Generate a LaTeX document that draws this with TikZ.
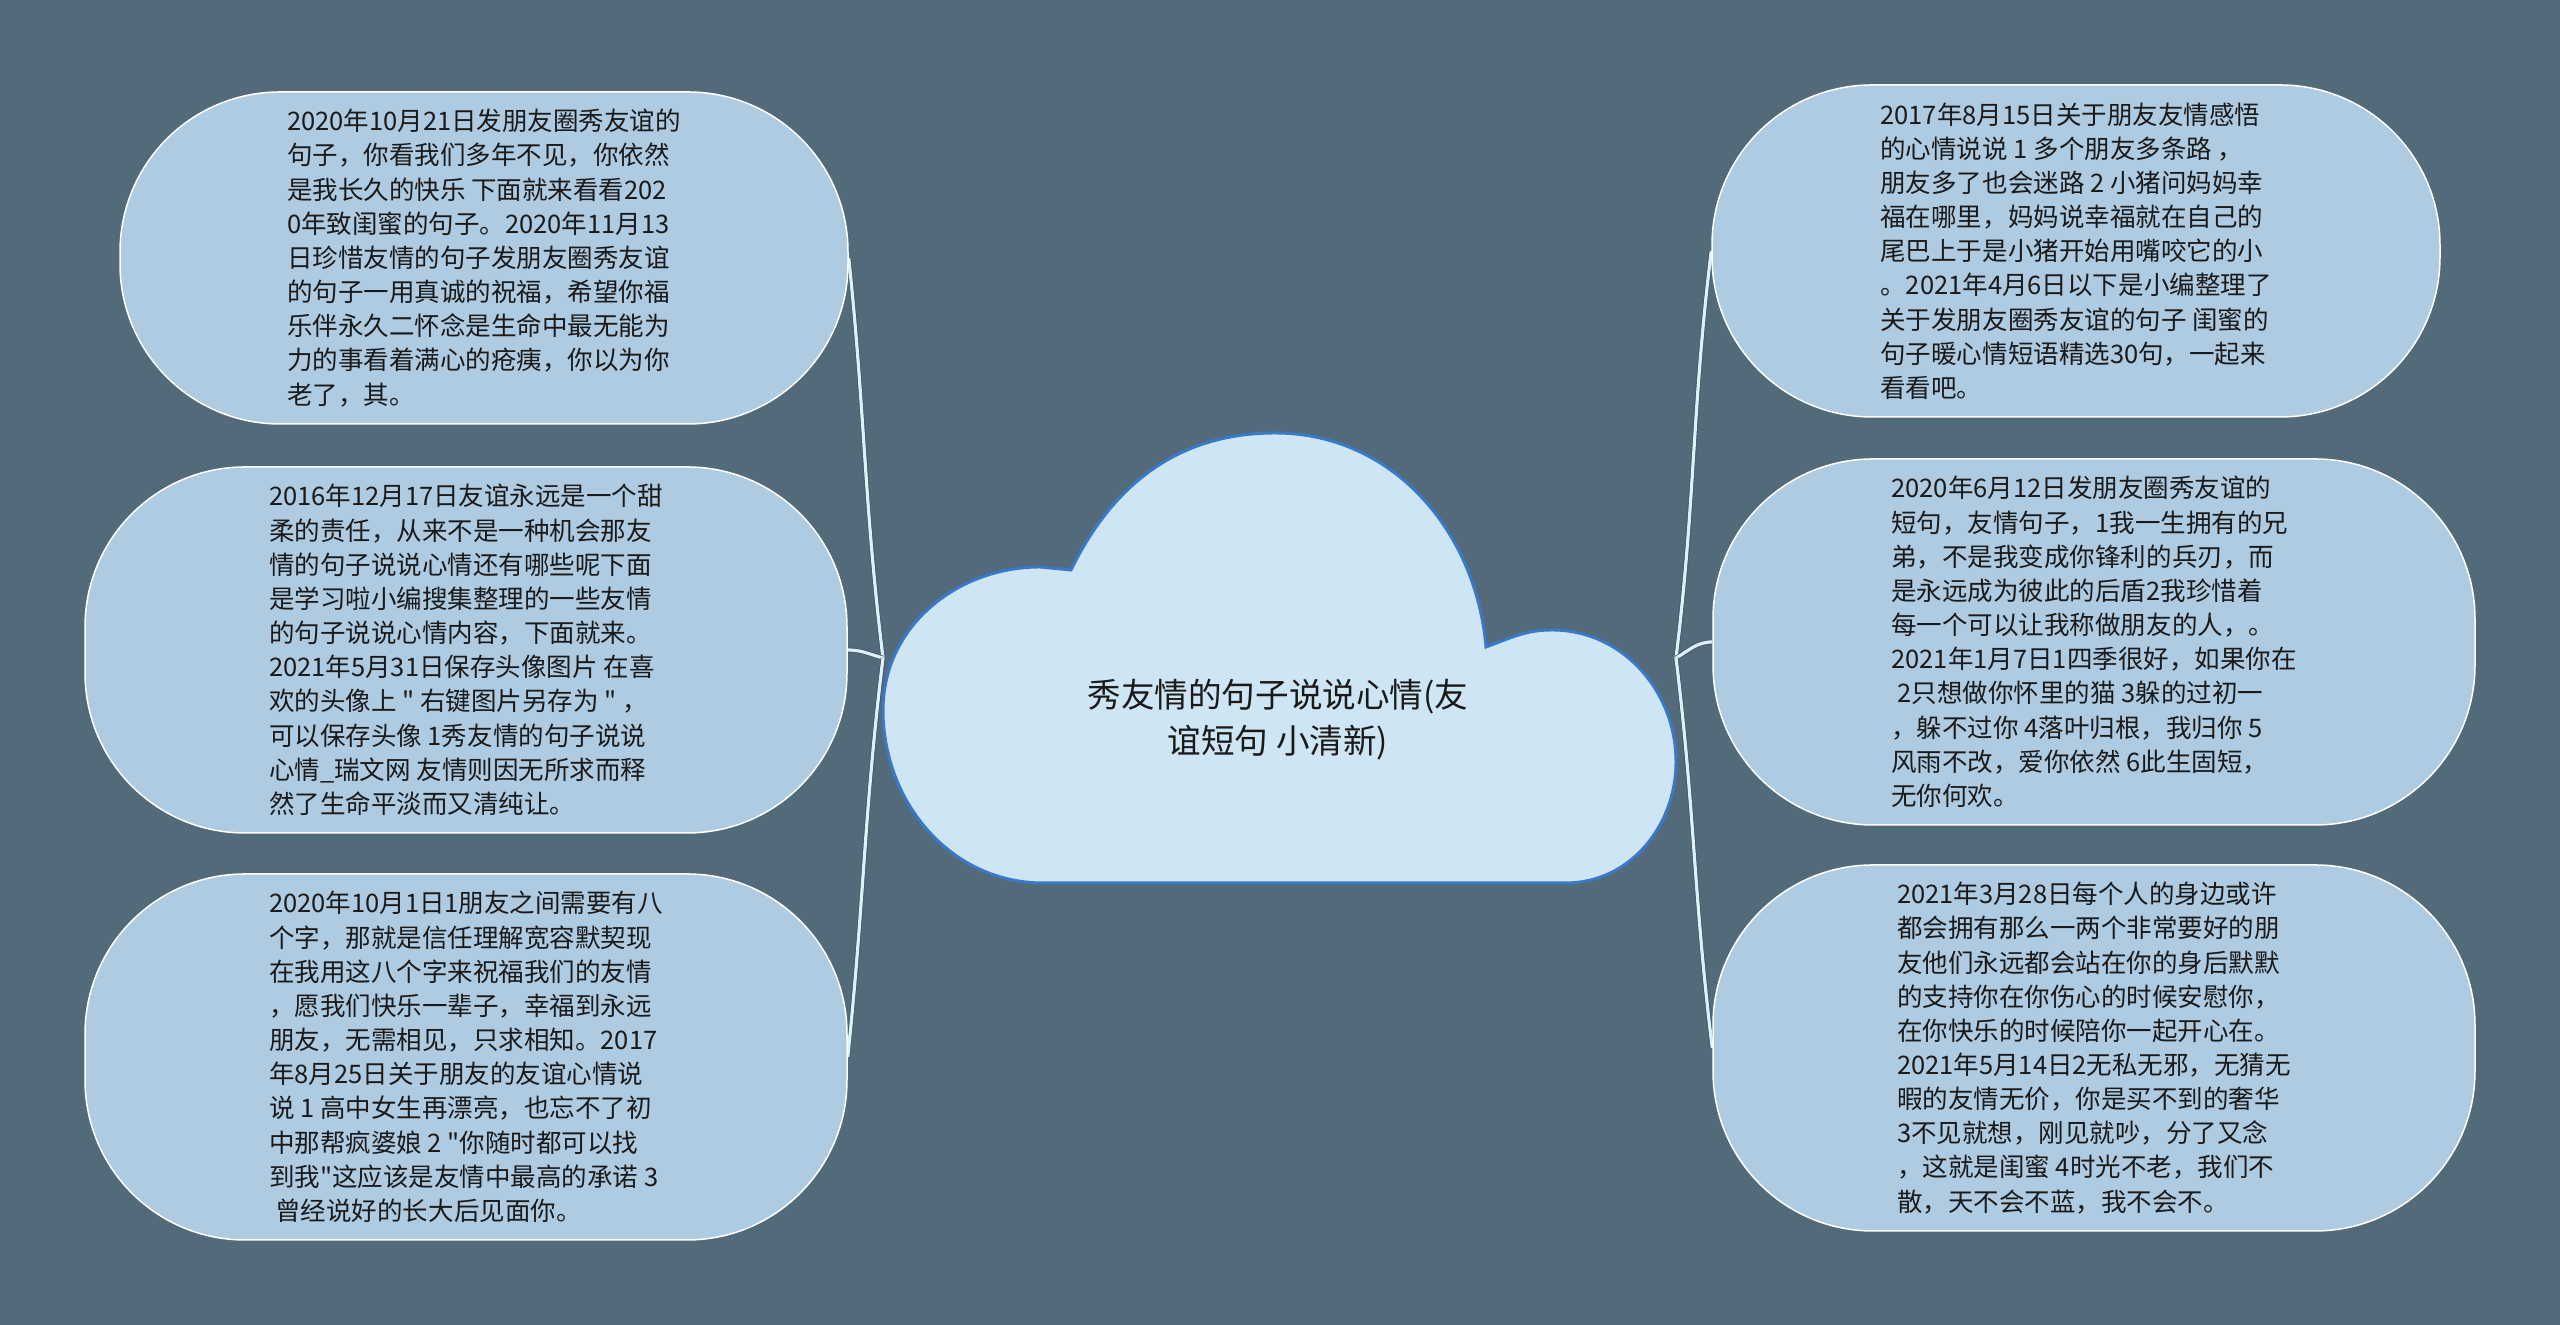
\documentclass[tikz,border=0pt]{standalone}
\usepackage{fontspec}
\usepackage{tikz}
\usetikzlibrary{backgrounds}
\newfontfamily\cjkfont{Noto Sans CJK SC}
\definecolor{bgslate}{RGB}{83,106,122}
\definecolor{leaffill}{RGB}{174,203,225}
\definecolor{cloudfill}{RGB}{206,230,243}
\definecolor{cloudedge}{RGB}{58,121,200}
\definecolor{linklight}{RGB}{222,241,250}
\definecolor{linkdark}{RGB}{62,80,94}
\definecolor{ink}{RGB}{26,26,26}

\begin{document}
\begin{tikzpicture}[
    x=0.1mm, y=0.1mm,
    leafbox/.style={draw=white, line width=0.15mm, fill=leaffill, rounded corners=16mm,
                    align=left, text=ink, inner sep=0pt,
                    font=\cjkfont\fontsize{7.26pt}{9.72pt}\selectfont},
    shortbox/.style={leafbox, minimum width=72.8mm, minimum height=33.2mm},
    tallbox/.style={leafbox, minimum width=76.2mm, minimum height=36.6mm},
    rootcloud/.style={draw=cloudedge, line width=0.3mm, fill=cloudfill},
    rootlabel/.style={align=center, text=ink, font=\cjkfont\fontsize{9.56pt}{13.1pt}\selectfont},
    conn/.style={draw=linkdark, line width=0.07mm, double=linklight, double distance=0.32mm}
  ]
  \useasboundingbox (0,0) rectangle (2560,1325);

  % Root cloud
  \draw[rootcloud] (1043,442) to[out=180,in=270] (883,615) to[out=90,in=180] (1040,758)
    -- (1071,755) to[out=64,in=180] (1275,892) to[out=0,in=95] (1486,678)
    to[out=20,in=180] (1552,695) to[out=0,in=90] (1676,563) to[out=270,in=0] (1566,442) -- cycle;
  \node[rootlabel] (root) at (1278,605) {秀友情的句子说说心情(友\\谊短句 小清新)};
  \coordinate (jl) at (883,667);
  \coordinate (jr) at (1676,667);

  % Nodes – left side
  \node[shortbox] (lt) at (484,1067) {2020年10月21日发朋友圈秀友谊的\\
句子，你看我们多年不见，你依然\\
是我长久的快乐 下面就来看看202\\
0年致闺蜜的句子。2020年11月13\\
日珍惜友情的句子发朋友圈秀友谊\\
的句子一用真诚的祝福，希望你福\\
乐伴永久二怀念是生命中最无能为\\
力的事看着满心的疮痍，你以为你\\
老了，其。};
  \node[tallbox] (lm) at (466,675) {2016年12月17日友谊永远是一个甜\\
柔的责任，从来不是一种机会那友\\
情的句子说说心情还有哪些呢下面\\
是学习啦小编搜集整理的一些友情\\
的句子说说心情内容，下面就来。\\
2021年5月31日保存头像图片 在喜\\
欢的头像上 " 右键图片另存为 " ，\\
可以保存头像 1秀友情的句子说说\\
心情\_瑞文网 友情则因无所求而释\\
然了生命平淡而又清纯让。};
  \node[tallbox] (lb) at (466,268) {2020年10月1日1朋友之间需要有八\\
个字，那就是信任理解宽容默契现\\
在我用这八个字来祝福我们的友情\\
，愿我们快乐一辈子，幸福到永远\\
朋友，无需相见，只求相知。2017\\
年8月25日关于朋友的友谊心情说\\
说 1 高中女生再漂亮，也忘不了初\\
中那帮疯婆娘 2 "你随时都可以找\\
到我"这应该是友情中最高的承诺 3\\
\hspace*{0.25em}曾经说好的长大后见面你。};

  % Nodes – right side
  \node[shortbox] (rt) at (2076,1074) {2017年8月15日关于朋友友情感悟\\
的心情说说 1 多个朋友多条路 ，\\
朋友多了也会迷路 2 小猪问妈妈幸\\
福在哪里，妈妈说幸福就在自己的\\
尾巴上于是小猪开始用嘴咬它的小\\
。2021年4月6日以下是小编整理了\\
关于发朋友圈秀友谊的句子 闺蜜的\\
句子暖心情短语精选30句，一起来\\
看看吧。};
  \node[tallbox] (rm) at (2094,683) {2020年6月12日发朋友圈秀友谊的\\
短句，友情句子，1我一生拥有的兄\\
弟，不是我变成你锋利的兵刃，而\\
是永远成为彼此的后盾2我珍惜着\\
每一个可以让我称做朋友的人，。\\
2021年1月7日1四季很好，如果你在\\
\hspace*{0.25em}2只想做你怀里的猫 3躲的过初一\\
，躲不过你 4落叶归根，我归你 5\\
风雨不改，爱你依然 6此生固短，\\
无你何欢。};
  \node[tallbox] (rb) at (2094,277) {2021年3月28日每个人的身边或许\\
都会拥有那么一两个非常要好的朋\\
友他们永远都会站在你的身后默默\\
的支持你在你伤心的时候安慰你，\\
在你快乐的时候陪你一起开心在。\\
2021年5月14日2无私无邪，无猜无\\
暇的友情无价，你是买不到的奢华\\
3不见就想，刚见就吵，分了又念\\
，这就是闺蜜 4时光不老，我们不\\
散，天不会不蓝，我不会不。};

  % Background and links
  \begin{scope}[on background layer]
    \fill[bgslate] (0,0) rectangle (2560,1325);
    \draw[conn] (jl) to[out=97,in=-84] (lt.east);
    \draw[conn] (jl) to[out=165,in=0] (lm.east);
    \draw[conn] (jl) to[out=-97,in=84] (lb.east);
    \draw[conn] (jr) to[out=83,in=-97] (rt.west);
    \draw[conn] (jr) to[out=30,in=180] (rm.west);
    \draw[conn] (jr) to[out=-83,in=97] (rb.west);
  \end{scope}
\end{tikzpicture}
\end{document}
